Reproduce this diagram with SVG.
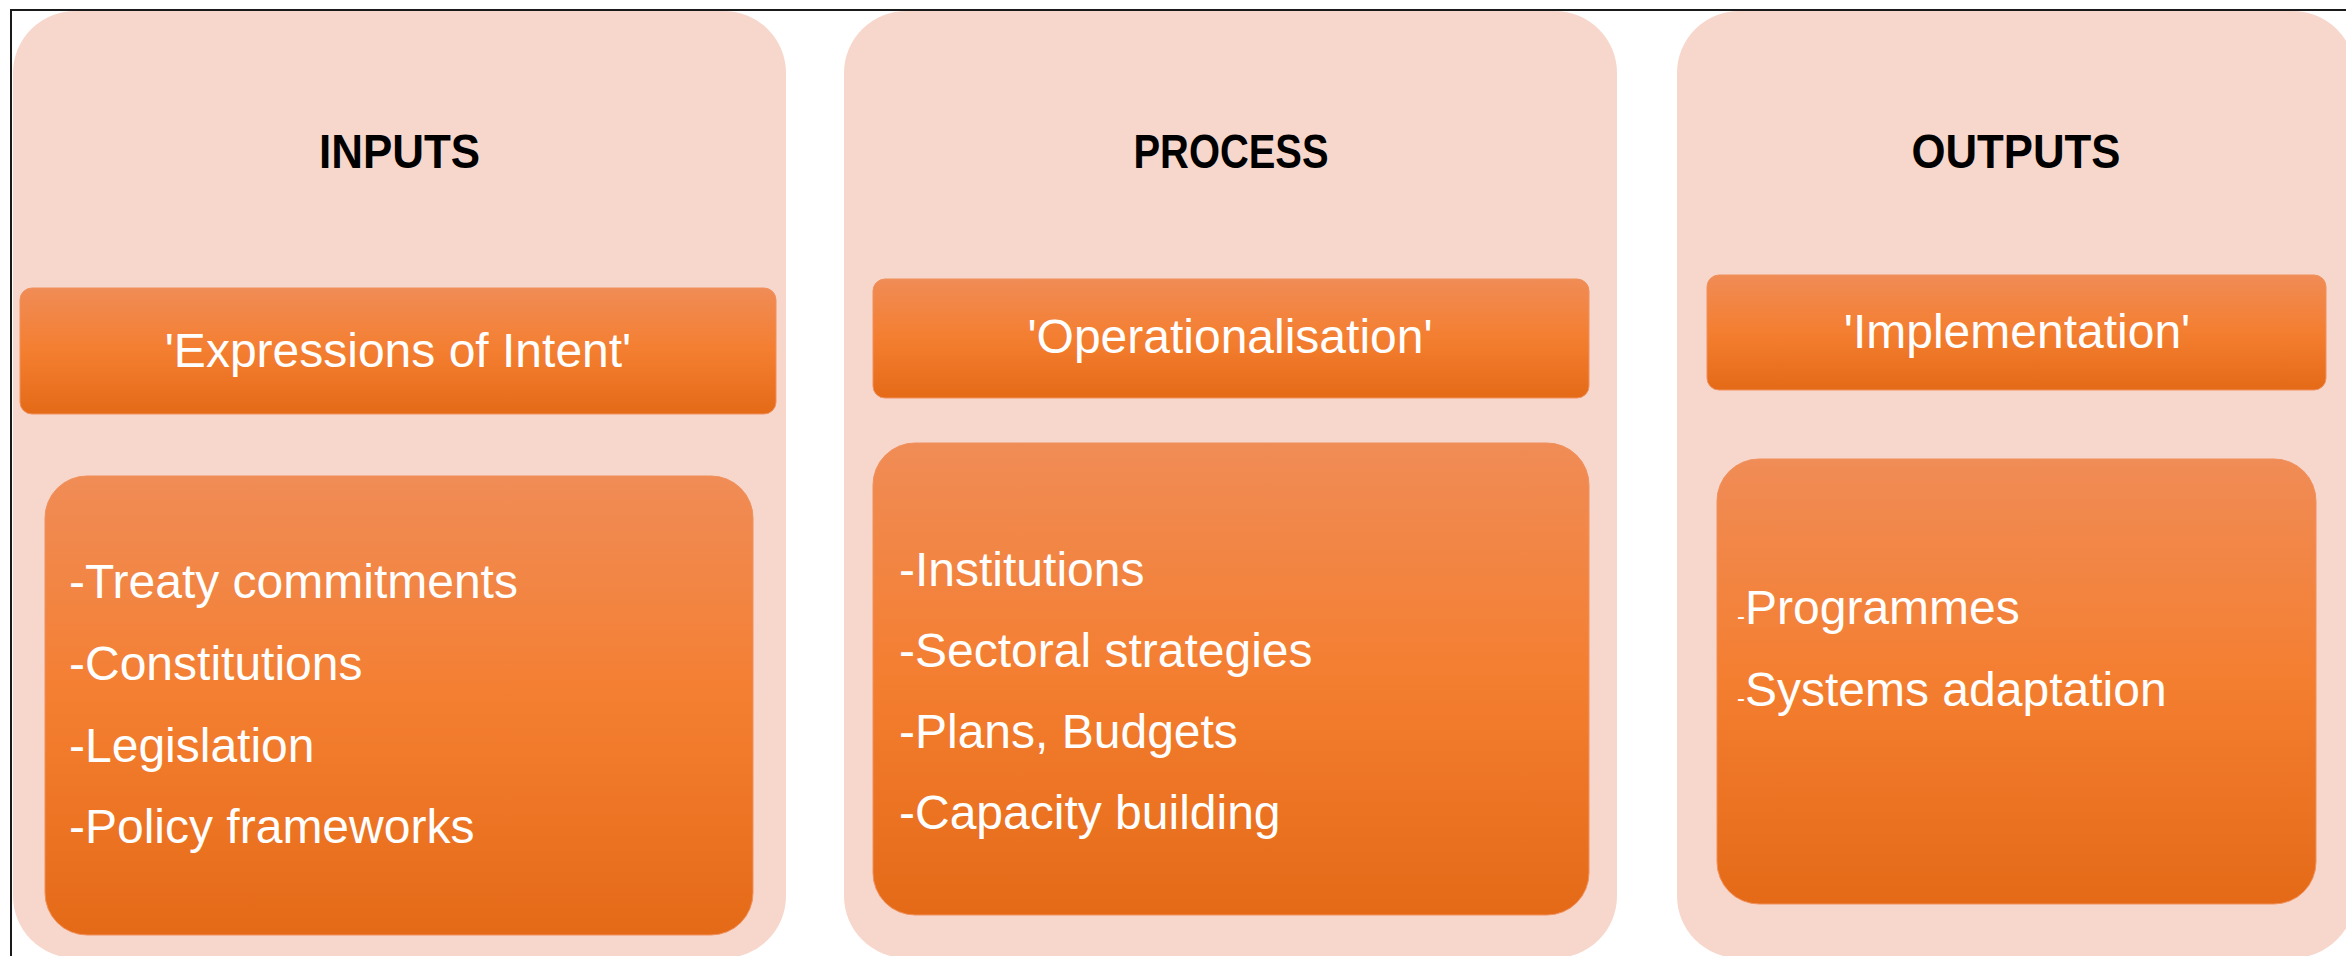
<svg xmlns="http://www.w3.org/2000/svg" width="2346" height="956" viewBox="0 0 2346 956">
  <defs>
    <linearGradient id="orange" x1="0" y1="0" x2="0" y2="1">
      <stop offset="0" stop-color="#F08C56"/>
      <stop offset="0.5" stop-color="#F47E30"/>
      <stop offset="1" stop-color="#E46A17"/>
    </linearGradient>
    <style>
      .panel { fill: #F7D7CC; }
      .box { fill: url(#orange); stroke: #F0905C; stroke-width: 1; }
      .head { font-family: "Liberation Sans", Arial, sans-serif; font-weight: bold; font-size: 48px; fill: #000; text-anchor: middle; }
      .title { font-family: "Liberation Sans", Arial, sans-serif; font-size: 48px; fill: #fff; text-anchor: middle; }
      .item { font-family: "Liberation Sans", Arial, sans-serif; font-size: 48px; fill: #fff; }
      .small { font-size: 24px; }
    </style>
  </defs>
  <rect x="0" y="0" width="2346" height="956" fill="#fff"/>
  <rect x="11" y="10" width="2400" height="1000" fill="none" stroke="#1a1a1a" stroke-width="2"/>

  <g id="inputs">
    <rect class="panel" x="13" y="11" width="773" height="947" rx="62" ry="62"/>
    <text class="head" x="399.5" y="168" textLength="161" lengthAdjust="spacingAndGlyphs">INPUTS</text>
    <g id="inputs-title">
      <rect class="box" x="20" y="288" width="756" height="126" rx="12" ry="12"/>
      <text class="title" x="398" y="367">'Expressions of Intent'</text>
    </g>
    <g id="inputs-list">
      <rect class="box" x="45" y="476" width="708" height="459" rx="42" ry="42"/>
      <text class="item" x="69" y="598">-Treaty commitments</text>
      <text class="item" x="69" y="680">-Constitutions</text>
      <text class="item" x="69" y="762">-Legislation</text>
      <text class="item" x="69" y="843">-Policy frameworks</text>
    </g>
  </g>

  <g id="process">
    <rect class="panel" x="844" y="11" width="773" height="947" rx="62" ry="62"/>
    <text class="head" x="1231" y="168" textLength="195" lengthAdjust="spacingAndGlyphs">PROCESS</text>
    <g id="process-title">
      <rect class="box" x="873" y="279" width="716" height="119" rx="12" ry="12"/>
      <text class="title" x="1230" y="353">'Operationalisation'</text>
    </g>
    <g id="process-list">
      <rect class="box" x="873" y="443" width="716" height="472" rx="42" ry="42"/>
      <text class="item" x="899" y="586">-Institutions</text>
      <text class="item" x="899" y="667">-Sectoral strategies</text>
      <text class="item" x="899" y="748">-Plans, Budgets</text>
      <text class="item" x="899" y="829">-Capacity building</text>
    </g>
  </g>

  <g id="outputs">
    <rect class="panel" x="1677" y="11" width="678" height="947" rx="62" ry="62"/>
    <text class="head" x="2016" y="168" textLength="209" lengthAdjust="spacingAndGlyphs">OUTPUTS</text>
    <g id="outputs-title">
      <rect class="box" x="1707" y="275" width="619" height="115" rx="12" ry="12"/>
      <text class="title" x="2017" y="348">'Implementation'</text>
    </g>
    <g id="outputs-list">
      <rect class="box" x="1717" y="459" width="599" height="445" rx="42" ry="42"/>
      <text class="item" x="1737" y="624"><tspan class="small">-</tspan>Programmes</text>
      <text class="item" x="1737" y="706"><tspan class="small">-</tspan>Systems adaptation</text>
    </g>
  </g>

  <g id="connectors"/>
</svg>
